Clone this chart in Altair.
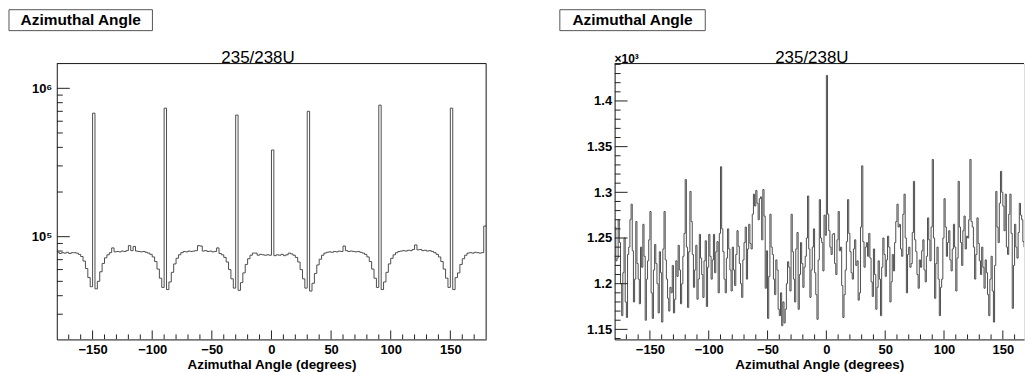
import altair as alt
import pandas as pd

# ---------------- data ----------------
# left panel: 2-degree bins, left edges -180 ... 178
LEFT_BIN_WIDTH = 2
left_counts = [
    78500, 77000, 78000, 77500, 78500, 77000, 78000, 78000,
    77500, 76000, 73500, 68500, 61000, 53000, 46000, 680000, 44500, 50000, 58000, 66000, 72000, 75500, 78000,
    84000, 79000, 79500, 79000, 80000, 79500, 80500, 87000, 80500, 86000, 80000, 79500, 79000, 79500, 78500,
    77500, 76000, 73000, 68000, 60500, 52500, 45500, 735000, 44000, 49500, 57500, 65500, 71500, 75500, 78000,
    79500, 79000, 80000, 79500, 80000, 80500, 87000, 86500, 80000, 80500, 79500, 80000, 79000, 79500, 84000,
    77000, 75500, 72500, 67500, 60000, 52000, 45000, 660000, 43500, 49000, 57000, 65000, 71000, 75000, 77500,
    77500, 75000, 76000, 75500, 75000, 75500, 75000, 384000, 74500, 75500, 75000, 76000, 74500, 75500, 77500,
    76500, 75000, 72500, 67500, 60000, 52000, 45000, 700000, 43000, 48500, 56500, 64500, 70500, 75000, 77500,
    78500, 79000, 78500, 79500, 79000, 80000, 79500, 86500, 80500, 79500, 80000, 79500, 79000, 79500, 78500,
    77500, 76000, 73000, 68000, 60500, 52500, 45500, 770000, 44000, 49500, 57500, 65500, 71500, 75500, 78000,
    79500, 80000, 80500, 80000, 81000, 80500, 82000, 88000, 81500, 82000, 80500, 81000, 80000, 80500, 79500,
    78000, 76000, 73000, 68000, 60500, 52500, 45500, 735000, 44000, 53000, 57000, 65000, 71000, 75000, 77500,
    78000, 77500, 78500, 78000, 77500, 78000, 118000,
]

# right panel: 1-degree bins, left edges -180 ... 179
RIGHT_BIN_WIDTH = 1
right_counts = [
    1262, 1225, 1228, 1270, 1245, 1200, 1165, 1212, 1250, 1180, 1163, 1232, 1240, 1270, 1287, 1236, 1180, 1205, 1268, 1222,
    1205, 1178, 1240, 1218, 1265, 1230, 1160, 1205, 1225, 1248, 1279, 1190, 1162, 1215, 1243, 1222, 1200, 1168, 1235, 1212,
    1158, 1238, 1279, 1226, 1205, 1184, 1170, 1196, 1190, 1220, 1168, 1183, 1225, 1208, 1242, 1215, 1178, 1200, 1230, 1255,
    1314, 1240, 1174, 1235, 1301, 1268, 1232, 1196, 1215, 1242, 1183, 1205, 1254, 1228, 1210, 1185, 1225, 1247, 1175, 1218,
    1254, 1230, 1205, 1226, 1254, 1212, 1235, 1246, 1190, 1255, 1328, 1260, 1235, 1205, 1190, 1228, 1260, 1238, 1215, 1192,
    1240, 1215, 1198, 1232, 1258, 1241, 1222, 1200, 1185, 1226, 1245, 1262, 1205, 1238, 1265, 1244, 1238, 1276, 1298, 1285,
    1302, 1288, 1270, 1293, 1295, 1248, 1303, 1274, 1195, 1236, 1162, 1208, 1276, 1240, 1232, 1205, 1188, 1226, 1215, 1172,
    1165, 1190, 1154, 1180, 1157, 1172, 1200, 1224, 1218, 1192, 1276, 1235, 1205, 1180, 1238, 1256, 1172, 1210, 1245, 1222,
    1196, 1218, 1230, 1250, 1296, 1238, 1185, 1215, 1240, 1260, 1212, 1188, 1161, 1226, 1292, 1250, 1245, 1214, 1275, 1253,
    1428, 1276, 1258, 1240, 1232, 1254, 1255, 1222, 1210, 1248, 1279, 1236, 1240, 1198, 1163, 1188, 1215, 1246, 1292, 1255,
    1235, 1212, 1205, 1238, 1248, 1220, 1225, 1182, 1190, 1262, 1329, 1246, 1218, 1240, 1245, 1230, 1255, 1228, 1202, 1186,
    1238, 1210, 1172, 1196, 1225, 1205, 1165, 1218, 1250, 1232, 1208, 1226, 1252, 1240, 1180, 1202, 1232, 1214, 1245, 1268,
    1287, 1262, 1265, 1238, 1230, 1276, 1298, 1250, 1190, 1232, 1240, 1218, 1222, 1256, 1312, 1248, 1235, 1210, 1195, 1226,
    1218, 1236, 1248, 1215, 1202, 1230, 1272, 1248, 1225, 1262, 1336, 1250, 1184, 1222, 1240, 1205, 1165, 1196, 1205, 1250,
    1293, 1262, 1230, 1245, 1258, 1226, 1214, 1238, 1265, 1240, 1192, 1228, 1312, 1262, 1245, 1220, 1258, 1274, 1238, 1252,
    1250, 1270, 1336, 1268, 1262, 1240, 1205, 1232, 1272, 1244, 1225, 1210, 1240, 1218, 1195, 1226, 1212, 1188, 1165, 1205,
    1230, 1192, 1158, 1220, 1301, 1262, 1245, 1288, 1323, 1300, 1285, 1258, 1298, 1240, 1232, 1276, 1298, 1255, 1173, 1220,
    1265, 1240, 1228, 1256, 1288, 1275, 1270, 1246, 1240, 1222, 1215, 1238, 1184, 1210, 1236, 1248, 1250, 1232, 1228, 1245,
]

x_major_ticks = [-150, -100, -50, 0, 50, 100, 150]
x_minor_ticks = [-170, -160, -140, -130, -120, -110, -90, -80, -70, -60, -40, -30, -20, -10,
                 10, 20, 30, 40, 60, 70, 80, 90, 110, 120, 130, 140, 160, 170]

left_y_major = [100000, 1000000]
left_y_minor = [30000, 40000, 50000, 60000, 70000, 80000, 90000,
                200000, 300000, 400000, 500000, 600000, 700000, 800000, 900000]
left_y_domain = [20300, 1470000]
left_x_domain = [-180, 180]

right_y_major = [1150, 1200, 1250, 1300, 1350, 1400]
right_y_minor = [1140, 1160, 1170, 1180, 1190, 1210, 1220, 1230, 1240, 1260, 1270, 1280, 1290,
                 1310, 1320, 1330, 1340, 1360, 1370, 1380, 1390, 1410, 1420, 1430, 1440]
right_y_domain = [1139, 1441]
right_x_domain = [-180, 168]   # the right-hand pad is cut off at the window edge

PAD_TITLE = "Azimuthal Angle"
HIST_TITLE = "235/238U"
X_TITLE = "Azimuthal Angle (degrees)"

FONT = "Liberation Sans"
H = 277
FRAME = "#222222"
LINE = "#4d4d4d"


def hist_frame(counts, bw):
    edges = [-180 + bw * i for i in range(len(counts))]
    return pd.DataFrame({"x": edges + [180], "count": counts + [counts[-1]]})


def panel(counts, bw, w, xdom, yscale, yaxis, ymaj, ymin, box_left, box_right, title_x,
          right_side=True, extra=None):
    xscale = alt.Scale(domain=xdom, nice=False, zero=False)
    xaxis = alt.Axis(values=x_major_ticks, ticks=False, tickSize=0, domain=True, domainColor=FRAME,
                     domainWidth=1, grid=False,
                     labelFont=FONT, labelFontSize=13, labelFontWeight="bold",
                     labelColor="black", labelPadding=4, title=X_TITLE,
                     titleFont=FONT, titleFontSize=13.5, titleFontWeight="bold",
                     titleColor="black", titlePadding=1)
    base = alt.Chart(hist_frame(counts, bw)).mark_line(
        interpolate="step-after", color=LINE, strokeWidth=1, clip=True
    ).encode(
        x=alt.X("x:Q", scale=xscale, axis=xaxis),
        y=alt.Y("count:Q", scale=yscale, axis=yaxis),
    )
    ymaj_r = alt.Chart(pd.DataFrame({"count": ymaj})).mark_rule(color=FRAME, strokeWidth=1, clip=True).encode(
        y=alt.Y("count:Q", scale=yscale, axis=yaxis), x=alt.value(0), x2=alt.value(13))
    ymin_r = alt.Chart(pd.DataFrame({"count": ymin})).mark_rule(color=FRAME, strokeWidth=1, clip=True).encode(
        y=alt.Y("count:Q", scale=yscale, axis=yaxis), x=alt.value(0), x2=alt.value(6))
    xmaj_r = alt.Chart(pd.DataFrame({"x": x_major_ticks})).mark_rule(color=FRAME, strokeWidth=1, clip=True).encode(
        x=alt.X("x:Q", scale=xscale, axis=xaxis), y=alt.value(H), y2=alt.value(H - 9))
    xmin_r = alt.Chart(pd.DataFrame({"x": x_minor_ticks})).mark_rule(color=FRAME, strokeWidth=1, clip=True).encode(
        x=alt.X("x:Q", scale=xscale, axis=xaxis), y=alt.value(H), y2=alt.value(H - 5))
    one = pd.DataFrame({"t": [PAD_TITLE]})
    top_line = alt.Chart(one).mark_rule(color=FRAME, strokeWidth=1).encode(
        x=alt.value(0), x2=alt.value(w), y=alt.value(0))
    box = alt.Chart(one).mark_rect(fill="white", stroke="#555", strokeWidth=1).encode(
        x=alt.value(box_left), x2=alt.value(box_right), y=alt.value(-54), y2=alt.value(-33))
    box_text = alt.Chart(one).mark_text(
        align="center", baseline="alphabetic", font=FONT, fontSize=15.5, fontWeight="bold", color="black"
    ).encode(text="t:N", x=alt.value((box_left + box_right) / 2), y=alt.value(-39))
    title = alt.Chart(pd.DataFrame({"t": [HIST_TITLE]})).mark_text(
        align="center", baseline="alphabetic", font=FONT, fontSize=17, color="black"
    ).encode(text="t:N", x=alt.value(title_x), y=alt.value(-1))
    layers = [base, ymaj_r, ymin_r, xmaj_r, xmin_r, top_line, box, box_text, title]
    if right_side:
        layers.append(alt.Chart(one).mark_rule(color=FRAME, strokeWidth=1).encode(
            x=alt.value(w), y=alt.value(0), y2=alt.value(H)))
    if extra is not None:
        layers.append(extra)
    return alt.layer(*layers).properties(width=w, height=H)


def y_axis(values, expr, pad):
    return alt.Axis(values=values, ticks=False, tickSize=0, domain=True, domainColor=FRAME,
                    domainWidth=1, grid=False, labelExpr=expr,
                    labelFont=FONT, labelFontSize=13, labelFontWeight="bold",
                    labelColor="black", labelPadding=pad, title=None)


left = panel(left_counts, LEFT_BIN_WIDTH, 431, left_x_domain,
             alt.Scale(type="log", domain=left_y_domain, nice=False, zero=False),
             y_axis(left_y_major, "datum.value == 100000 ? '10⁵' : '10⁶'", 5),
             left_y_major, left_y_minor, -48, 96, 202, right_side=True)

exp_text = alt.Chart(pd.DataFrame({"t": ["×10³"]})).mark_text(
    align="left", baseline="alphabetic", font=FONT, fontSize=12, fontWeight="bold", color="black"
).encode(text="t:N", x=alt.value(0), y=alt.value(-1))

right = panel(right_counts, RIGHT_BIN_WIDTH, 411, right_x_domain,
              alt.Scale(domain=right_y_domain, nice=False, zero=False),
              y_axis(right_y_major, "format(datum.value / 1000, '.3~g')", 3),
              right_y_major, right_y_minor, -55, 91, 198, right_side=False, extra=exp_text)

chart = alt.hconcat(left, right, spacing=72).properties(
    padding={"left": 0, "top": 0, "right": 0, "bottom": 0}
).configure_view(stroke=None).configure(font=FONT, background="white")

chart.save("out.html", embed_options={"renderer": "svg", "actions": False})
